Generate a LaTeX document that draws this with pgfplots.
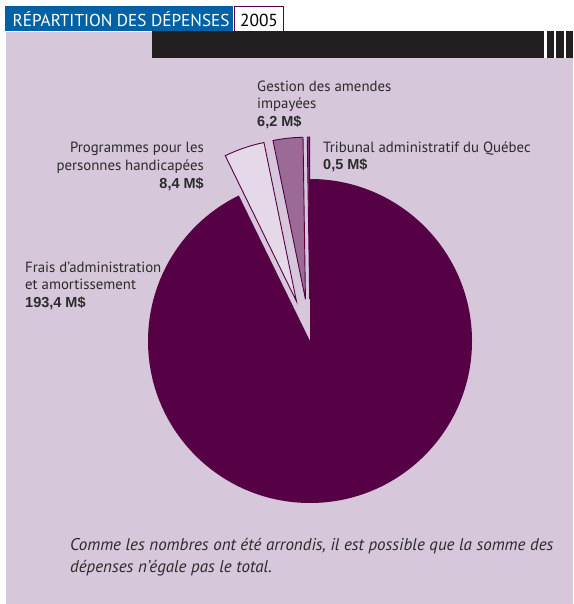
\documentclass[border=0pt]{standalone}
\usepackage{pgfplots}
\pgfplotsset{compat=1.18}
\usepackage{pgfplotstable}
\usetikzlibrary{calc}
\usepackage{fontspec}
\setmainfont{PT Sans}
\newfontfamily\valfont{Liberation Sans}
\definecolor{lav}{HTML}{D6C7DA}
\definecolor{hblue}{HTML}{0062A4}
\definecolor{dbar}{HTML}{231F20}
\definecolor{pdark}{HTML}{560046}
\definecolor{txt}{HTML}{2B2B2B}
\definecolor{c0}{HTML}{560046}
\definecolor{c1}{HTML}{E5D8E8}
\definecolor{c2}{HTML}{9B6B96}
\definecolor{c3}{HTML}{7D3474}
\tikzset{
  lab/.style={text=txt, font=\fontsize{14.8}{14.8}\selectfont, inner sep=0pt},
  val/.style={text=txt, font=\fontsize{14.5}{14.5}\valfont\bfseries, inner sep=0pt},
  foot/.style={text=txt, font=\fontsize{17}{17}\selectfont\itshape, inner sep=0pt, anchor=base west},
}
\pgfplotstableread[col sep=comma]{
label,value,explode
Frais,193.4,0
Programmes,8.4,42
Gestion,6.2,42
Tribunal,0.5,42
}\piedata
\begin{document}
\begin{tikzpicture}
\begin{axis}[
  scale only axis, width=573pt, height=604pt,
  xmin=0, xmax=573, ymin=0, ymax=604,
  hide axis, clip=false,
]
% background
\fill[white] (axis cs:0,0) rectangle (axis cs:573,604);
\fill[lav] (axis cs:6,0) rectangle (axis cs:573,572);
\fill[hblue] (axis cs:5,573) rectangle (axis cs:233,598);
\filldraw[fill=white, draw=pdark, line width=0.9pt] (axis cs:234.5,573) rectangle (axis cs:283,597.5);
\fill[dbar] (axis cs:152,546) rectangle (axis cs:573,573);
\fill[white] (axis cs:544,546) rectangle (axis cs:546.5,573);
\fill[white] (axis cs:553.5,546) rectangle (axis cs:556,573);
\fill[white] (axis cs:564,546) rectangle (axis cs:566,573);
\node[anchor=base west, text=white, font=\fontsize{17.2}{17.2}\selectfont, inner sep=0pt] at (axis cs:12.5,577.5) {RÉPARTITION DES DÉPENSES};
\node[anchor=base, text=black, font=\fontsize{17.4}{17.4}\selectfont, inner sep=0pt] at (axis cs:259,577.5) {2005};
% pie
\def\total{0}
\pgfplotsforeachungrouped \i in {0,...,3}{%
  \pgfplotstablegetelem{\i}{value}\of\piedata
  \pgfmathsetmacro\total{\total+\pgfplotsretval}%
}
\def\cur{90}
\pgfplotsforeachungrouped \i in {0,...,3}{%
  \pgfplotstablegetelem{\i}{value}\of\piedata
  \let\v=\pgfplotsretval
  \pgfplotstablegetelem{\i}{explode}\of\piedata
  \let\ex=\pgfplotsretval
  \pgfmathsetmacro\a{\cur}%
  \pgfmathsetmacro\frac{\v/\total}%
  \pgfmathsetmacro\b{\cur-360*\frac}%
  \pgfmathsetmacro\m{(\a+\b)/2}%
  \ifnum\i=0
    \edef\cmd{\noexpand\fill[c\i] (axis cs:310,263) -- ++(\a:162pt) arc[start angle=\a, end angle=\b, radius=162pt] -- cycle;}%
  \else
    \edef\cmd{\noexpand\filldraw[fill=c\i, draw=pdark, line width=0.9pt, line join=miter] ($(axis cs:310,263)+(\m:\ex pt)$) -- ++(\a:162pt) arc[start angle=\a, end angle=\b, radius=162pt] -- cycle;}%
  \fi
  \cmd
  \global\let\cur=\b
}
% labels
\node[lab, anchor=base west] at (axis cs:257,512) {Gestion des amendes};
\node[lab, anchor=base west] at (axis cs:257,495) {impayées};
\node[val, anchor=base west] at (axis cs:257,477) {6,2 M\$};
\node[lab, anchor=base west] at (axis cs:323,451.5) {Tribunal administratif du Québec};
\node[val, anchor=base west] at (axis cs:323,434.5) {0,5 M\$};
\node[lab, anchor=base east] at (axis cs:204,451.5) {Programmes pour les};
\node[lab, anchor=base east] at (axis cs:204,433.5) {personnes handicapées};
\node[val, anchor=base east] at (axis cs:204,415.5) {8,4 M\$};
\node[lab, anchor=base west] at (axis cs:25,331) {Frais d’administration};
\node[lab, anchor=base west] at (axis cs:25,314) {et amortissement};
\node[val, anchor=base west] at (axis cs:25,296) {193,4 M\$};
\node[foot] at (axis cs:70,53) {Comme les nombres ont été arrondis, il est possible que la somme des};
\node[foot] at (axis cs:70,31) {dépenses n’égale pas le total.};
\end{axis}
\end{tikzpicture}
\end{document}
